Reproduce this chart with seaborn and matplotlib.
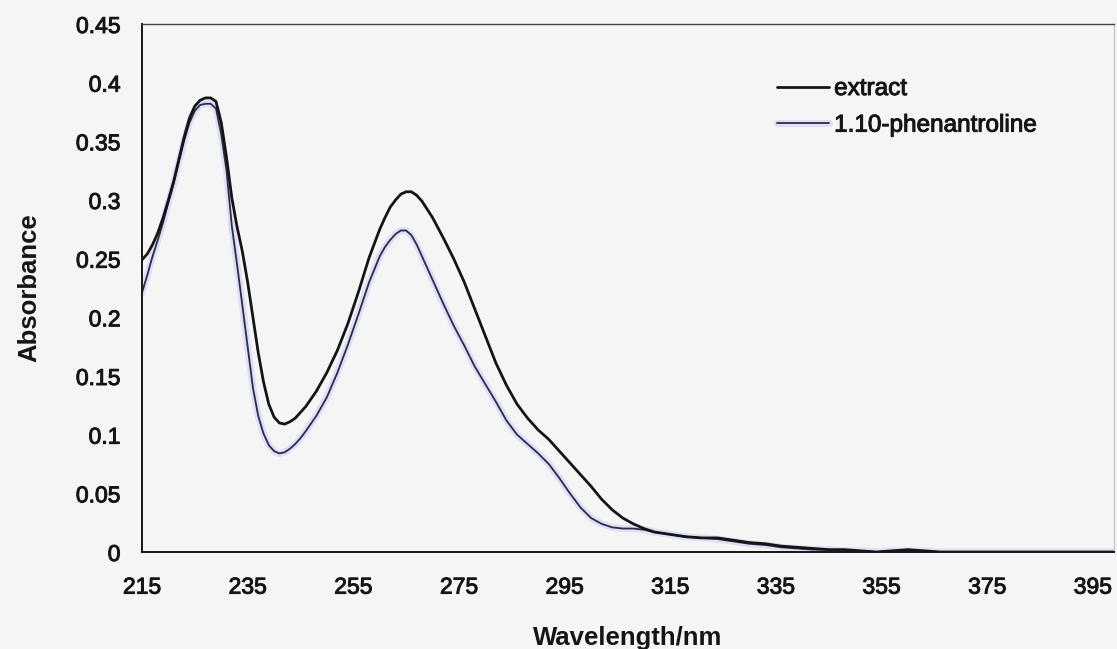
import matplotlib
matplotlib.use("Agg")
import matplotlib.pyplot as plt
import matplotlib.patheffects as pe
from matplotlib.lines import Line2D
import pandas as pd
import seaborn as sns

# Wavelength grid (nm)
wavelength = [215, 216, 217, 218, 219, 220, 221, 222, 223, 224, 225, 226, 227, 228,
              229, 230, 231, 232, 233, 234, 235, 236, 237, 238, 239, 240, 241, 242,
              243, 244, 245, 246, 248, 250, 252, 254, 256, 258, 260, 261, 262, 263,
              264, 265, 266, 267, 268, 270, 272, 274, 276, 278, 280, 282, 284, 286,
              288, 290, 292, 294, 296, 298, 300, 302, 304, 306, 308, 310, 312, 315,
              318, 321, 324, 327, 330, 333, 336, 339, 342, 345, 348, 351, 354, 357,
              360, 363, 366, 370, 375, 380, 385, 390, 395, 399]

# Absorbance of the plant extract
extract = [0.249, 0.254, 0.262, 0.272, 0.285, 0.300, 0.316, 0.335, 0.354, 0.370,
           0.380, 0.385, 0.387, 0.387, 0.384, 0.366, 0.336, 0.302, 0.277, 0.256,
           0.230, 0.200, 0.170, 0.145, 0.126, 0.115, 0.110, 0.109, 0.111, 0.114,
           0.119, 0.124, 0.137, 0.153, 0.172, 0.195, 0.222, 0.251, 0.275, 0.285,
           0.294, 0.300, 0.305, 0.307, 0.307, 0.304, 0.299, 0.285, 0.268, 0.250,
           0.230, 0.207, 0.184, 0.161, 0.142, 0.126, 0.114, 0.104, 0.096, 0.086,
           0.076, 0.066, 0.056, 0.045, 0.036, 0.029, 0.024, 0.020, 0.017, 0.015,
           0.013, 0.012, 0.012, 0.010, 0.008, 0.007, 0.005, 0.004, 0.003, 0.002,
           0.002, 0.001, 0.000, 0.001, 0.002, 0.001, 0.000, 0.000, 0.000, 0.000,
           0.000, 0.000, 0.000, 0.000]

# Absorbance of the 1,10-phenanthroline standard
phenantroline = [0.221, 0.236, 0.252, 0.266, 0.281, 0.298, 0.314, 0.333, 0.351, 0.366,
                 0.376, 0.381, 0.382, 0.382, 0.378, 0.356, 0.325, 0.278, 0.245, 0.210,
                 0.175, 0.140, 0.116, 0.101, 0.091, 0.086, 0.084, 0.085, 0.088, 0.092,
                 0.097, 0.103, 0.116, 0.132, 0.153, 0.177, 0.203, 0.230, 0.252, 0.260,
                 0.266, 0.271, 0.274, 0.274, 0.270, 0.262, 0.252, 0.232, 0.212, 0.193,
                 0.176, 0.158, 0.143, 0.128, 0.112, 0.100, 0.092, 0.084, 0.075, 0.063,
                 0.050, 0.038, 0.029, 0.024, 0.021, 0.020, 0.020, 0.019, 0.017, 0.015,
                 0.013, 0.012, 0.011, 0.009, 0.007, 0.006, 0.004, 0.003, 0.002, 0.002,
                 0.001, 0.001, 0.000, 0.001, 0.001, 0.001, 0.000, 0.000, 0.000, 0.000,
                 0.000, 0.000, 0.000, 0.000]

series_names = ["extract", "1.10-phenantroline"]
x_ticks = [215, 235, 255, 275, 295, 315, 335, 355, 375, 395]
y_ticks = [0, 0.05, 0.1, 0.15, 0.2, 0.25, 0.3, 0.35, 0.4, 0.45]
y_tick_labels = ["0", "0.05", "0.1", "0.15", "0.2", "0.25", "0.3", "0.35", "0.4", "0.45"]

sns.set_theme(style="white")
plt.rcParams["font.family"] = ["Liberation Sans", "DejaVu Sans"]

bg = "#f5f5f5"
ink = "#151515"
phen_color = "#2c2c48"
halo = [pe.Stroke(linewidth=5, foreground="#dcdff6"), pe.Normal()]
heavy = [pe.withStroke(linewidth=0.7, foreground=ink)]

fig = plt.figure(figsize=(11.17, 6.49), dpi=100, facecolor=bg)
ax = fig.add_axes([142 / 1117, 97 / 649, 972 / 1117, 528 / 649], facecolor=bg)

df_ext = pd.DataFrame({"Wavelength": wavelength, "Absorbance": extract})
df_phen = pd.DataFrame({"Wavelength": wavelength, "Absorbance": phenantroline})

sns.lineplot(data=df_phen, x="Wavelength", y="Absorbance", ax=ax, color=phen_color,
             linewidth=1.3, sort=False, path_effects=halo)
sns.lineplot(data=df_ext, x="Wavelength", y="Absorbance", ax=ax, color=ink,
             linewidth=2.0, sort=False)

ax.set_xlim(215, 399)
ax.set_ylim(0, 0.45)
ax.set_xticks(x_ticks)
ax.set_xticklabels([str(t) for t in x_ticks])
ax.set_yticks(y_ticks)
ax.set_yticklabels(y_tick_labels)

ax.tick_params(axis="both", which="major", direction="out", length=4, width=1,
               color="#aaaaaa", labelsize=16.5, labelcolor=ink)
ax.tick_params(axis="x", pad=13)
ax.tick_params(axis="y", pad=11.5)
for lab in ax.get_xticklabels() + ax.get_yticklabels():
    lab.set_path_effects(heavy)

for side in ["left", "bottom"]:
    ax.spines[side].set_color(ink)
    ax.spines[side].set_linewidth(1.4)
ax.spines["top"].set_color("#444444")
ax.spines["top"].set_linewidth(1.0)
ax.spines["right"].set_color("#c8c8c8")
ax.spines["right"].set_linewidth(1.0)

ax.set_xlabel("Wavelength/nm", fontsize=18.5, fontweight="bold", color=ink, labelpad=19.5)
ax.set_ylabel("Absorbance", fontsize=18.5, fontweight="bold", color=ink, labelpad=25)

handles = [
    Line2D([0], [0], color=ink, linewidth=2.0),
    Line2D([0], [0], color=phen_color, linewidth=1.3, path_effects=halo),
]
leg = ax.legend(handles, series_names, loc="upper left",
                bbox_to_anchor=(777 / 1117, 1 - 78 / 649), bbox_transform=fig.transFigure,
                frameon=False, fontsize=17.5, handlelength=2.15, handletextpad=0.2,
                labelspacing=0.6, borderpad=0, borderaxespad=0)
for t in leg.get_texts():
    t.set_color(ink)
    t.set_path_effects(heavy)

fig.savefig("out.png", dpi=100, facecolor=bg)
